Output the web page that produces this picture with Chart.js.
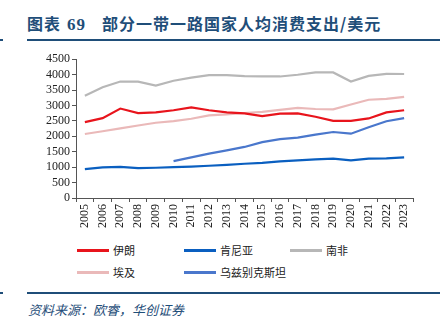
<!DOCTYPE html>
<html>
<head>
<meta charset="utf-8">
<script src="https://cdn.jsdelivr.net/npm/chart.js@4"></script>
<style>
  body { margin: 0; width: 445px; height: 328px; background: #fff; position: relative; overflow: hidden; font-family: "Noto Sans CJK SC", sans-serif; }
  #title { position: absolute; left: 27px; top: 11px; font-size: 16px; font-weight: bold; color: #1f4e79; white-space: pre; letter-spacing: 1px; }
  #title .num { font-family: "Liberation Serif", serif; font-size: 17px; margin-left: 6px; margin-right: 16px; }
  .rule { position: absolute; height: 2px; background: #1f4e79; }
  #chartBox { position: absolute; left: 0; top: 50px; width: 445px; height: 180px; }
  #legend { position: absolute; left: 77px; top: 242px; display: grid; grid-template-columns: 107px 106px 106px; row-gap: 6px; font-size: 11px; color: #222; }
  .item { display: flex; align-items: center; height: 16px; }
  .swatch { width: 32px; height: 3px; margin-right: 4px; }
  #source { position: absolute; left: 28px; top: 300px; font-size: 13px; font-style: italic; color: #1f4e79; }
</style>
</head>
<body>
<div id="title">图表<span class="num">69</span>部分一带一路国家人均消费支出/美元</div>
<div class="rule" style="left:0;top:39px;width:3px"></div>
<div class="rule" style="left:27px;top:39px;width:413px"></div>
<div id="chartBox"><canvas id="chart"></canvas></div>
<div id="legend"></div>
<div class="rule" style="left:0;top:292px;width:3px"></div>
<div class="rule" style="left:27px;top:292px;width:413px"></div>
<div id="source">资料来源：欧睿，华创证券</div>
<script>
const years = ["2005","2006","2007","2008","2009","2010","2011","2012","2013","2014","2015","2016","2017","2018","2019","2020","2021","2022","2023"];

const iran = [2460, 2590, 2900, 2755, 2775, 2845, 2940, 2845, 2775, 2745, 2655, 2735, 2745, 2635, 2500, 2500, 2580, 2775, 2845];
const kenya = [935, 990, 1010, 970, 980, 1000, 1020, 1045, 1075, 1110, 1140, 1185, 1220, 1250, 1275, 1220, 1275, 1285, 1315];
const southAfrica = [3315, 3590, 3775, 3775, 3645, 3800, 3900, 3985, 3985, 3950, 3940, 3940, 3995, 4070, 4070, 3775, 3960, 4025, 4020];
const egypt = [2075, 2165, 2260, 2350, 2440, 2490, 2570, 2680, 2710, 2755, 2790, 2855, 2920, 2885, 2875, 3030, 3185, 3215, 3280];
const uzbekistan = [null, null, null, null, null, 1195, 1315, 1440, 1545, 1655, 1810, 1910, 1955, 2055, 2140, 2085, 2295, 2490, 2590];

const yTicks = [0, 500, 1000, 1500, 2000, 2500, 3000, 3500, 4000, 4500];

const series = [
  { label: "伊朗", data: iran, color: "#e8141c" },
  { label: "肯尼亚", data: kenya, color: "#0a5fc0" },
  { label: "南非", data: southAfrica, color: "#b7b7b7" },
  { label: "埃及", data: egypt, color: "#eab9b9" },
  { label: "乌兹别克斯坦", data: uzbekistan, color: "#4a77cc" }
];

const serif = "'Liberation Serif', 'DejaVu Serif', serif";

const chart = new Chart(document.getElementById("chart"), {
  type: "line",
  data: {
    labels: years,
    datasets: series.map(s => ({
      label: s.label,
      data: s.data,
      borderColor: s.color,
      backgroundColor: s.color,
      borderWidth: 2.2,
      pointRadius: 0,
      tension: 0,
      spanGaps: false
    }))
  },
  options: {
    responsive: true,
    maintainAspectRatio: false,
    animation: false,
    layout: { padding: { top: 4, left: 44, right: 32, bottom: 0 } },
    plugins: { legend: { display: false }, tooltip: { enabled: false } },
    scales: {
      x: {
        offset: true,
        grid: { offset: true, drawOnChartArea: false, drawTicks: true, tickLength: 4, color: "#555" },
        border: { color: "#555" },
        ticks: { minRotation: 90, maxRotation: 90, autoSkip: false, font: { family: serif, size: 12 }, color: "#222", padding: 2 }
      },
      y: {
        min: 0,
        max: 4500,
        afterBuildTicks: axis => { axis.ticks = yTicks.map(v => ({ value: v })); },
        grid: { drawOnChartArea: false, drawTicks: true, tickLength: 4, color: "#555" },
        border: { color: "#555" },
        ticks: { autoSkip: false, font: { family: serif, size: 12 }, color: "#222", padding: 2, callback: v => String(v) }
      }
    }
  }
});

// legend laid out in a three-column grid
const legend = document.getElementById("legend");
chart.data.datasets.forEach(ds => {
  const item = document.createElement("div");
  item.className = "item";
  item.innerHTML = `<span class="swatch" style="background:${ds.borderColor}"></span><span>${ds.label}</span>`;
  legend.appendChild(item);
});
</script>
</body>
</html>
